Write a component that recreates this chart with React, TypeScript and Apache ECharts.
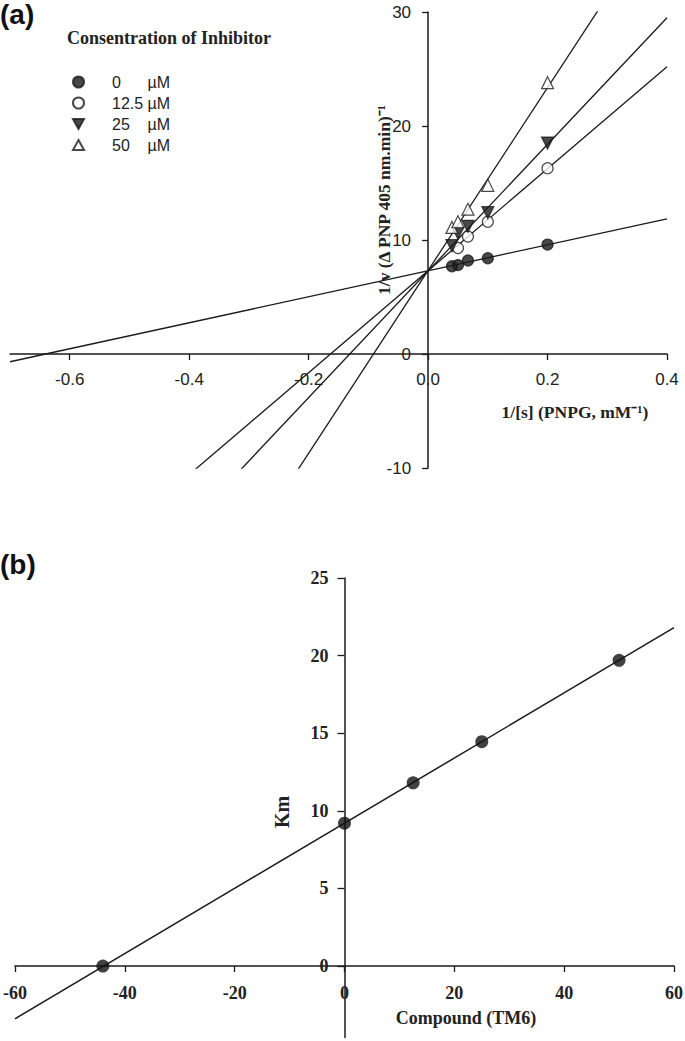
import React, { useEffect, useRef } from "react";
import * as echarts from "echarts";

// ---------- Panel (a): Lineweaver-Burk ----------
const inhibitorNames = ["0      µM", "12.5 µM", "25    µM", "50    µM"];
const invSubstrate = [0.04, 0.05, 0.0667, 0.1, 0.2];
const invRate0 = [7.7, 7.8, 8.2, 8.4, 9.6];
const invRate12 = [null, 9.3, 10.3, 11.6, 16.3];
const invRate25 = [9.5, 10.6, 11.2, 12.4, 18.5];
const invRate50 = [11.1, 11.6, 12.7, 14.8, 23.8];
const fitXA = [-0.7, 0.4];
const fitY0 = [-0.68, 11.86];
const fitY12 = [-24.0, 25.2];
const fitY25 = [-31.6, 29.5];
const fitY50 = [-48.8, 39.4];
const aXTicks = [-0.6, -0.4, -0.2, 0, 0.2, 0.4];
const aYTicks = [-10, 0, 10, 20, 30];

// ---------- Panel (b): Km replot ----------
const compound = [-44, 0, 12.5, 25, 50];
const kmValues = [0, 9.2, 11.8, 14.45, 19.7];
const fitXB = [-60, 60];
const fitKm = [-3.4, 21.8];
const bXTicks = [-60, -40, -20, 0, 20, 40, 60];
const bYTicks = [0, 5, 10, 15, 20, 25];

const pairs = (xs: number[], ys: (number | null)[]) =>
  xs.map((x, i) => (ys[i] == null ? null : [x, ys[i]])).filter((p) => p !== null);

const SANS = "Liberation Sans";
const SERIF = "Liberation Serif";
const INK = "#1a1a1a";

// grid geometry (pixels)
const GA = { left: 10, top: 12, width: 657, height: 456 };
const GB = { left: 15, top: 578, width: 659, height: 459.4 };
const A_X = [-0.7, 0.4];
const A_Y = [-10, 30];
const B_X = [-60, 60];
const B_Y = [-4.6, 25];

export default function App() {
  const ref = useRef<HTMLDivElement>(null);
  useEffect(() => {
    if (!ref.current) return;
    const chart = echarts.init(ref.current, null, { renderer: "svg" });

    // pixel offsets so that each axis sits on the other's zero
    const aYOff = -((0 - A_X[0]) / (A_X[1] - A_X[0])) * GA.width;
    const aXOff = -((0 - A_Y[0]) / (A_Y[1] - A_Y[0])) * GA.height;
    const bYOff = -((0 - B_X[0]) / (B_X[1] - B_X[0])) * GB.width;
    const bXOff = -((0 - B_Y[0]) / (B_Y[1] - B_Y[0])) * GB.height;

    const axisLine = { onZero: false, lineStyle: { color: INK, width: 1.5 } };
    const tickStyle = { color: INK, width: 1.3 };
    const markers = [
      { symbol: "circle", rotate: 0, fill: INK },
      { symbol: "circle", rotate: 0, fill: "#fff" },
      { symbol: "triangle", rotate: 180, fill: INK },
      { symbol: "triangle", rotate: 0, fill: "#fff" },
    ];
    const rates = [invRate0, invRate12, invRate25, invRate50];
    const fits = [fitY0, fitY12, fitY25, fitY50];

    const series: any[] = [];
    fits.forEach((f) => {
      series.push({
        type: "line",
        xAxisIndex: 0,
        yAxisIndex: 0,
        data: pairs(fitXA, f),
        symbol: "none",
        clip: true,
        lineStyle: { color: INK, width: 1.3 },
        silent: true,
        z: 2,
      });
    });
    rates.forEach((r, i) => {
      series.push({
        type: "scatter",
        name: inhibitorNames[i],
        xAxisIndex: 0,
        yAxisIndex: 0,
        data: pairs(invSubstrate, r),
        symbol: markers[i].symbol,
        symbolRotate: markers[i].rotate,
        symbolSize: markers[i].symbol === "circle" ? 11 : 12,
        itemStyle: { color: markers[i].fill, borderColor: INK, borderWidth: 1.2 },
        z: 3,
      });
    });
    series.push({
      type: "line",
      xAxisIndex: 1,
      yAxisIndex: 1,
      data: pairs(fitXB, fitKm),
      symbol: "none",
      clip: true,
      lineStyle: { color: INK, width: 1.5 },
      silent: true,
      z: 2,
    });
    series.push({
      type: "scatter",
      name: "Km",
      xAxisIndex: 1,
      yAxisIndex: 1,
      data: pairs(compound, kmValues),
      symbol: "circle",
      symbolSize: 13,
      itemStyle: { color: "#111" },
      z: 3,
    });

    const legendIcons = [
      "circle",
      "circle",
      "path://M0,0L10,0L5,9Z",
      "path://M5,0L10,9L0,9Z",
    ];

    chart.setOption({
      animation: false,
      backgroundColor: "#fff",
      grid: [
        { ...GA, containLabel: false, outerBoundsMode: "none" },
        { ...GB, containLabel: false, outerBoundsMode: "none" },
      ],
      xAxis: [
        {
          type: "value",
          gridIndex: 0,
          min: A_X[0],
          max: A_X[1],
          position: "bottom",
          offset: aXOff,
          axisLine,
          axisTick: { show: true, customValues: aXTicks, length: 6, lineStyle: tickStyle },
          axisLabel: {
            customValues: aXTicks,
            formatter: (v: number) => v.toFixed(1),
            fontFamily: SANS,
            fontSize: 17,
            color: "#222",
            margin: 17,
          },
          splitLine: { show: false },
        },
        {
          type: "value",
          gridIndex: 1,
          min: B_X[0],
          max: B_X[1],
          position: "bottom",
          offset: bXOff,
          axisLine,
          axisTick: { show: true, customValues: bXTicks, length: 6, lineStyle: tickStyle },
          axisLabel: {
            customValues: bXTicks,
            fontFamily: SERIF,
            fontWeight: "bold",
            fontSize: 18,
            color: "#222",
            margin: 18,
          },
          splitLine: { show: false },
        },
      ],
      yAxis: [
        {
          type: "value",
          gridIndex: 0,
          min: A_Y[0],
          max: A_Y[1],
          position: "left",
          offset: aYOff,
          axisLine,
          axisTick: { show: true, customValues: aYTicks, length: 6, lineStyle: tickStyle },
          axisLabel: { customValues: aYTicks, fontFamily: SANS, fontSize: 17, color: "#222", margin: 17 },
          splitLine: { show: false },
        },
        {
          type: "value",
          gridIndex: 1,
          min: B_Y[0],
          max: B_Y[1],
          position: "left",
          offset: bYOff,
          axisLine,
          axisTick: { show: true, customValues: bYTicks, length: 7, lineStyle: tickStyle },
          axisLabel: {
            customValues: bYTicks,
            fontFamily: SERIF,
            fontWeight: "bold",
            fontSize: 18,
            color: "#222",
            margin: 16,
          },
          splitLine: { show: false },
        },
      ],
      legend: {
        data: inhibitorNames.map((n, i) => ({ name: n, icon: legendIcons[i] })),
        orient: "vertical",
        left: 67,
        top: 69,
        itemWidth: 11,
        itemHeight: 11,
        itemGap: 5,
        textStyle: { fontFamily: SANS, fontSize: 16, color: "#222", lineHeight: 16, padding: [0, 0, 0, 23] },
        selectedMode: false,
      },
      graphic: [
        { type: "text", left: 0, top: 0, style: { text: "(a)", font: `bold 28px ${SANS}`, fill: "#111" } },
        { type: "text", left: 0, top: 550, style: { text: "(b)", font: `bold 28px ${SANS}`, fill: "#111" } },
        {
          type: "text",
          x: 67,
          y: 38,
          style: { text: "Consentration of Inhibitor", font: `bold 18px ${SERIF}`, fill: "#222", verticalAlign: "middle" },
        },
        {
          type: "text",
          x: 575,
          y: 412,
          style: { text: "1/[s] (PNPG, mM⁻¹)", font: `bold 17.5px ${SERIF}`, fill: "#222", align: "center", verticalAlign: "middle" },
        },
        {
          type: "text",
          x: 384,
          y: 200,
          rotation: Math.PI / 2,
          style: {
            text: "1/v (Δ PNP 405 nm.min)⁻¹",
            font: `bold 17.5px ${SERIF}`,
            fill: "#222",
            align: "center",
            verticalAlign: "middle",
          },
        },
        {
          type: "text",
          x: 466,
          y: 1018,
          style: { text: "Compound (TM6)", font: `bold 18px ${SERIF}`, fill: "#222", align: "center", verticalAlign: "middle" },
        },
        {
          type: "text",
          x: 282,
          y: 812,
          rotation: Math.PI / 2,
          style: { text: "Km", font: `bold 20px ${SERIF}`, fill: "#222", align: "center", verticalAlign: "middle" },
        },
      ],
      series,
    });
    return () => chart.dispose();
  }, []);
  return (
    <div
      ref={ref}
      style={{ position: "absolute", left: 0, top: 0, width: 685, height: 1041, background: "#fff" }}
    />
  );
}
